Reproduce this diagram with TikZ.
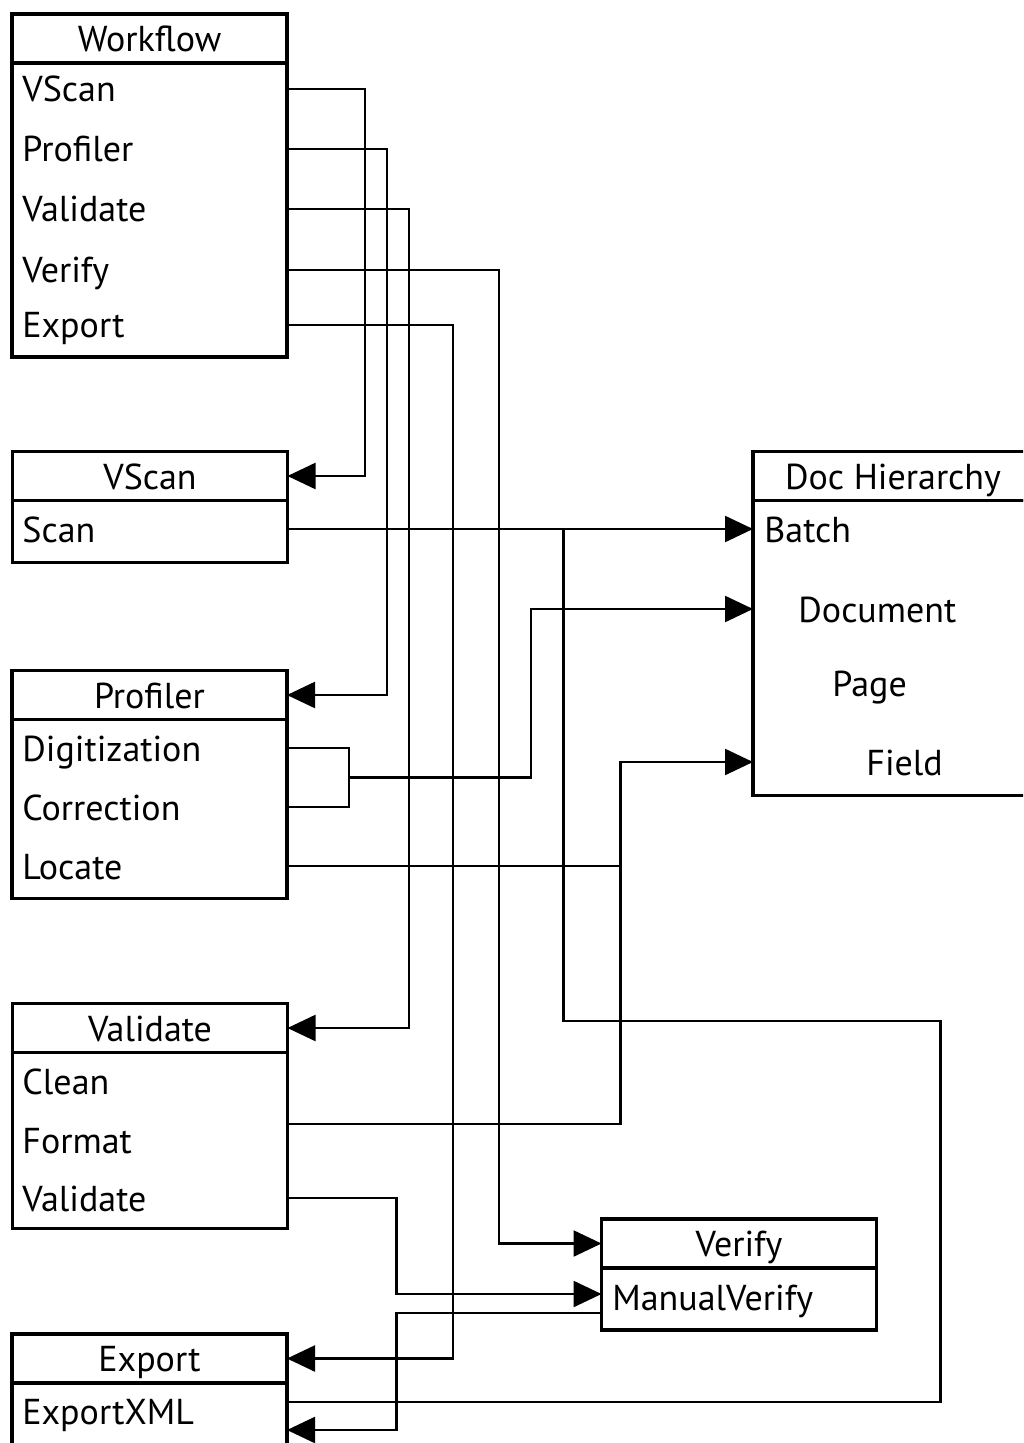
\documentclass[tikz,border=0pt]{standalone}
\usepackage{fontspec}
\setmainfont{PT Sans}
\usetikzlibrary{positioning,arrows.meta,calc}
\tikzset{
    hdr/.style={rectangle,draw,line width=1.8pt,outer sep=0pt,inner sep=0pt,minimum width=137.5pt,minimum height=24.5pt,text height=13pt,text depth=0pt,font=\fontsize{18}{20}\selectfont},
    bodybox/.style={rectangle,draw,line width=1.8pt,outer sep=0pt,inner sep=0pt,minimum width=137.5pt,anchor=north},
    item/.style={anchor=west,inner sep=0pt,text height=13pt,text depth=0pt,font=\fontsize{18}{20}\selectfont},
    wire/.style={line width=1.2pt},
    arr/.style={wire,-{Triangle[length=14pt,width=13pt]}},
}

\begin{document}
\begin{tikzpicture}[x=0.5pt,y=-0.5pt]
\useasboundingbox (0,0) rectangle (1023,1443);
\clip (0,0) rectangle (1023,1443);

% boxes
\node[hdr] (wf) at (149.5,38.5) {Workflow};
\node[bodybox,minimum height=147pt] (wfBody) at (wf.south) {};
\node[item] (wfVScan)    at (22,89)  {VScan};
\node[item] (wfProfiler) at (22,149) {Profiler};
\node[item] (wfValidate) at (22,209) {Validate};
\node[item] (wfVerify)   at (22,270) {Verify};
\node[item] (wfExport)   at (22,325) {Export};

\node[hdr] (vs) at (150,476) {VScan};
\node[bodybox,minimum height=31pt] (vsBody) at (vs.south) {};
\node[item] (vsScan) at (22,529) {Scan};

\node[hdr] (pr) at (149.5,695) {Profiler};
\node[bodybox,minimum height=89.5pt] (prBody) at (pr.south) {};
\node[item] (prDigit)  at (22,748) {Digitization};
\node[item] (prCorr)   at (22,807) {Correction};
\node[item] (prLocate) at (22,866) {Locate};

\node[hdr] (va) at (150,1028) {Validate};
\node[bodybox,minimum height=88pt] (vaBody) at (va.south) {};
\node[item] (vaClean)  at (22,1081) {Clean};
\node[item] (vaFormat) at (22,1140) {Format};
\node[item] (vaValid)  at (22,1198) {Validate};

\node[hdr] (ex) at (149.5,1358.5) {Export};
\node[bodybox,minimum height=45pt] (exBody) at (ex.south) {};
\node[item] (exXML) at (22,1411) {ExportXML};

\node[hdr,minimum width=140pt] (dh) at (893,476) {Doc Hierarchy};
\node[bodybox,minimum width=140pt,minimum height=147.5pt] (dhBody) at (dh.south) {};
\node[item] (dhBatch) at (764,529) {Batch};
\node[item] (dhDoc)   at (798,609) {Document};
\node[item] (dhPage)  at (832,683) {Page};
\node[item] (dhField) at (866,762) {Field};

\node[hdr] (ve) at (739,1243.5) {Verify};
\node[bodybox,minimum height=31pt] (veBody) at (ve.south) {};
\node[item] (veManual) at (612,1297) {ManualVerify};

% workflow links
\draw[arr] (wf.east |- wfVScan) -- ++(78,0) |- (vs.east);
\draw[arr] (wf.east |- wfProfiler) -- ++(100,0) |- (pr.east);
\draw[arr] (wf.east |- wfValidate) -- ++(122,0) |- (va.east);
\draw[arr] (wf.east |- wfVerify) -- ++(212,0) |- (ve.west);
\draw[arr] (wf.east |- wfExport) -- ++(166,0) |- (ex.east);

% scan to batch, and on to export
\draw[arr] (vsBody.east |- vsScan) -- (dhBody.west |- dhBatch);
\draw[wire] (vsBody.east |- vsScan) ++(276,0) |- ++(377,492) |- ($(exBody.east |- exXML)+(0,-9)$);

% profiler
\coordinate (prJoin) at ($(prBody.east |- prDigit)!.5!(prBody.east |- prCorr)+(62,0)$);
\draw[wire] (prBody.east |- prDigit) -| (prJoin) |- (prBody.east |- prCorr);
\draw[arr] (prJoin) -- ++(182,0) |- (dhBody.west |- dhDoc);
\draw[wire] (prBody.east |- prLocate) -- ++(333,0);

% validate
\draw[arr] ($(vaBody.east |- vaFormat)+(0,-16)$) -- ++(333,0) |- (dhBody.west |- dhField);
\draw[arr] (vaBody.east |- vaValid) -- ++(109,0) |- ($(veBody.west |- veManual)+(0,-3)$);

% verify to export
\draw[arr] ($(veBody.west |- veManual)+(0,16)$) -- ++(-205,0) |- ($(exBody.east |- exXML)+(0,19)$);
\end{tikzpicture}
\end{document}
